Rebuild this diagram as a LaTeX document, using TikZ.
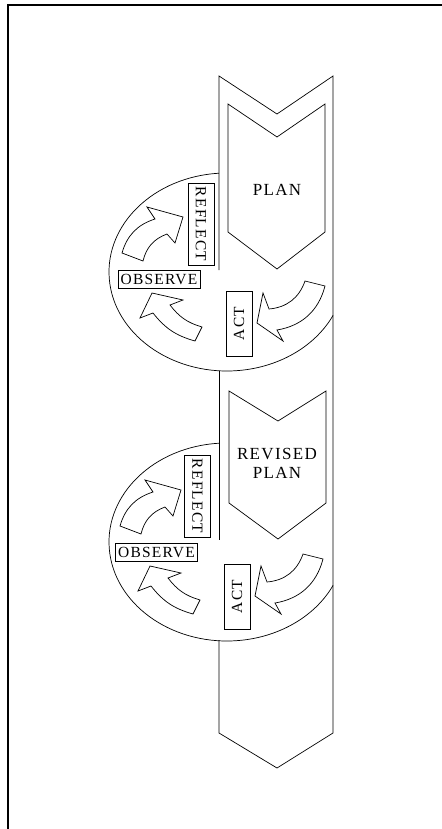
\documentclass[tikz,border=0pt]{standalone}
\usepackage{fontspec}
\setmainfont{Liberation Serif}
\newfontfamily\spacedfont{Liberation Serif}[LetterSpace=8]
\usetikzlibrary{positioning}

\begin{document}
\begin{tikzpicture}[
  x=0.3mm, y=0.3mm, line width=0.6pt, line join=miter,
  lbl/.style={draw, fill=white, inner sep=0pt,
              font=\spacedfont\fontsize{13.2}{15}\selectfont},
  vlbl/.style={lbl, minimum width=24.6mm, minimum height=7.8mm},
  hlbl/.style={lbl, minimum width=24.6mm, minimum height=5.4mm},
  albl/.style={lbl, minimum width=19.5mm, minimum height=7.8mm},
  plantext/.style={align=center, font=\spacedfont\fontsize{14.5}{16.2}\selectfont},
  blockarrow/.style={draw, fill=white},
  pics/cyclearrows/.style={code={
    %% observe -> reflect
    \draw[blockarrow] (122,-253) to[bend left=28] (155,-219) -- (147,-207)
      -- (183,-217) -- (175,-243) -- (167,-234) to[bend right=28] (143,-261) -- cycle;
    %% act -> observe
    \draw[blockarrow] (202,-327) to[bend left=18] (170,-305) -- (183,-300)
      -- (152,-293) -- (140,-318) -- (153,-313) to[bend right=18] (195,-341) -- cycle;
    %% plan -> act
    \draw[blockarrow] (269,-309) to[bend right=33] (305,-281) -- (325,-286)
      to[bend left=33] (277,-330) -- (283,-341) -- (257,-323) -- (263,-293) -- cycle;
  }}
]
\useasboundingbox (0,0) rectangle (442,-829);

%% Frame
\draw[line width=1pt] (442,-5) -- (8,-5) -- (8,-829);

%% Long arrow
\draw (219,-270) -- (219,-76) -- (277,-114) -- (333,-76) -- (333,-733)
      -- (277,-768) -- (219,-733) -- (219,-640);
\draw (219,-371) -- (219,-540);

%% First cycle
\coordinate (ell1) at (227,-272);
\draw ([shift={(93.9:118 and 99)}]ell1)
      arc[start angle=93.9, end angle=334, x radius=118, y radius=99];
\draw (228,-104) -- (277,-137) -- (325,-104) -- (325,-232) -- (277,-269)
      -- (228,-232) -- cycle;
\node[plantext] (plan1) at (277,-190) {PLAN};
\pic at (0,0) {cyclearrows};
\node[vlbl, rotate=-90] (reflect1) at (201,-224) {REFLECT};
\node[hlbl]             (observe1) at (159,-279.5) {OBSERVE};
\node[albl, rotate=90]  (act1)     at (239,-323.5) {ACT};

%% Second cycle
\coordinate (ell2) at (227,-542);
\draw ([shift={(93.9:118 and 99)}]ell2)
      arc[start angle=93.9, end angle=334, x radius=118, y radius=99];
\draw (229,-391) -- (278,-421) -- (326,-391) -- (326,-503) -- (278,-539)
      -- (229,-503) -- cycle;
\node[plantext] (plan2) at (277,-463) {REVISED\\PLAN};
\pic at (-2,-273) {cyclearrows};
\node[vlbl, rotate=-90] (reflect2) at (197.5,-496) {REFLECT};
\node[hlbl]             (observe2) at (156.5,-552.5) {OBSERVE};
\node[albl, rotate=90]  (act2)     at (237,-596.5) {ACT};

\end{tikzpicture}
\end{document}
